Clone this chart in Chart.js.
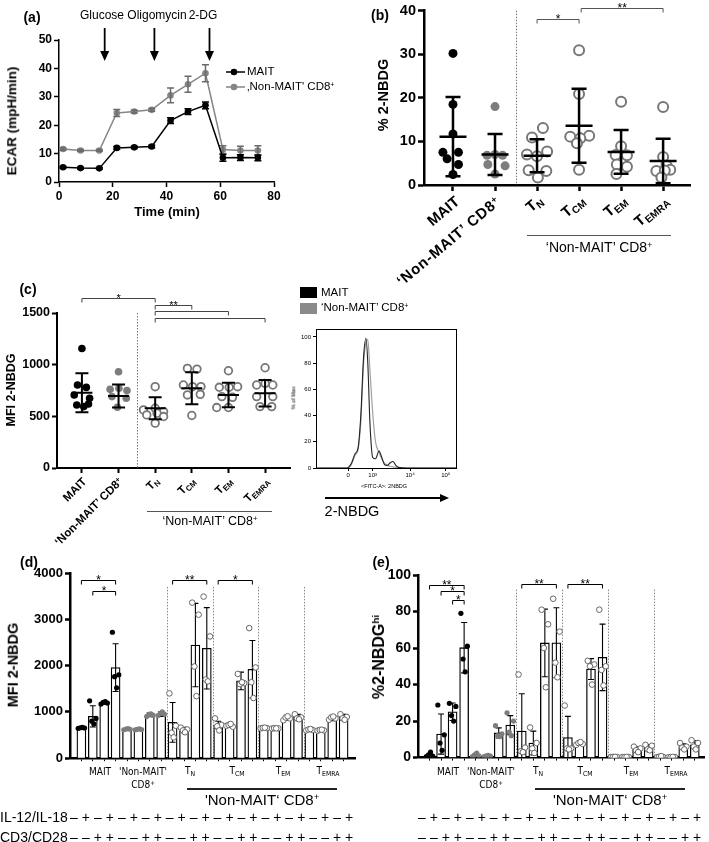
<!DOCTYPE html>
<html><head><meta charset="utf-8">
<script src="https://cdn.jsdelivr.net/npm/chart.js@4.4.1/dist/chart.umd.min.js"></script>
<style>
html,body{margin:0;padding:0;background:#fff;}
#root{position:relative;width:709px;height:842px;overflow:hidden;font-family:'Liberation Sans',Arial,Helvetica,sans-serif;color:#000;background:#fff;}
canvas{position:absolute;}
.t{position:absolute;white-space:nowrap;line-height:1;}
.s{font-size:0.68em;vertical-align:-0.28em;}
.p{font-size:0.62em;vertical-align:0.5em;}
</style></head><body><div id="root"></div>
<script>
// ================= DATA =================
// (a) Seahorse ECAR
const timeMin       = [1.5, 8, 15, 21.5, 28, 34.5, 41.5, 48, 54.5, 61, 67.5, 74];
const ecarMAIT      = [5.2, 4.9, 4.8, 12.0, 12.2, 12.5, 21.6, 24.8, 27.0, 8.5, 8.6, 8.5];
const ecarMAITsd    = [0.3, 0.3, 0.3, 0.5, 0.4, 0.4, 1.0, 1.0, 1.2, 1.2, 1.0, 1.0];
const ecarNonMAIT   = [11.6, 11.1, 11.1, 24.3, 24.8, 25.4, 30.5, 34.4, 38.3, 11.4, 11.1, 11.1];
const ecarNonMAITsd = [0.4, 0.3, 0.3, 1.2, 0.5, 0.5, 2.6, 2.8, 3.0, 1.4, 1.5, 1.7];
const injectionNames = ['Glucose', 'Oligomycin', '2-DG'];
const injectionTimes = [17, 35.5, 56];

// (b) % 2-NBDG per subset (index 0..5 = MAIT, Non-MAIT, TN, TCM, TEM, TEMRA)
const subsets     = ['MAIT', "‘Non-MAIT’ CD8+", 'TN', 'TCM', 'TEM', 'TEMRA'];
const pctMAIT     = [30.2, 18.5, 11.7, 7.5, 7.5, 6.0, 4.7, 2.4];
const pctNonMAIT  = [18.0, 6.8, 6.8, 7.0, 4.7, 4.4, 2.5];
const pctTN       = [13.1, 10.9, 7.0, 7.7, 6.6, 3.4, 3.2, 1.7];
const pctTCM      = [30.9, 20.9, 11.1, 11.3, 10.7, 9.6, 3.5];
const pctTEM      = [19.1, 8.9, 6.9, 6.8, 4.7, 4.2, 2.5];
const pctTEMRA    = [17.9, 6.4, 4.5, 3.2, 3.5, 3.3, 1.7];
const pctMean     = [11.1, 7.0, 6.7, 13.6, 7.6, 5.5];
const pctSD       = [9.1, 4.7, 3.8, 8.5, 5.0, 5.1];
const jitB = [
  [0, 0, 0, -0.24, 0.13, -0.14, 0.13, 0],
  [0, -0.19, 0.18, 0, -0.17, 0.24, 0],
  [0.14, -0.12, -0.24, 0.24, 0, -0.2, 0.22, 0.02],
  [0, 0, -0.21, 0.24, 0.03, -0.05, 0],
  [0, 0, -0.13, 0.14, -0.1, 0.14, -0.11],
  [0, 0, 0.08, -0.16, 0.17, 0.04, -0.04]
];
const sigB = [[2, 3, 38.0, '*'], [3.05, 5, 40.7, '**']];

// (c) MFI 2-NBDG per subset
const mfiMAIT     = [1156, 803, 780, 707, 675, 610, 594, 620];
const mfiNonMAIT  = [932, 761, 771, 749, 691, 675, 588];
const mfiTN       = [787, 562, 578, 546, 514, 530, 498, 434];
const mfiTCM      = [964, 957, 803, 787, 787, 707, 713, 508];
const mfiTEM      = [941, 781, 781, 787, 691, 684, 585, 585];
const mfiTEMRA    = [970, 803, 819, 803, 691, 691, 594, 594];
const mfiMean     = [729, 697, 578, 771, 707, 723];
const mfiSD       = [189, 111, 107, 155, 119, 129];
const jitC = [
  [0, -0.12, 0.12, -0.21, 0.21, -0.14, 0.05, 0.18],
  [0, -0.23, 0.01, 0.23, -0.18, 0.21, -0.03],
  [0, -0.32, 0, 0.23, -0.23, 0.05, 0.23, 0],
  [-0.12, 0.14, -0.23, 0.02, 0.25, -0.12, 0.23, 0],
  [0, -0.25, 0.02, 0.25, -0.18, 0.11, -0.32, 0],
  [0, -0.23, 0, 0.21, -0.23, 0.21, -0.14, 0.18]
];
const sigC = [[0, 2, 1645, '*'], [2, 3, 1577, '**'], [2, 4, 1519, ''], [2, 5, 1452, '']];

// (c, right) histogram: display channel (0-100) vs % of Max
const histX       = [0, 18, 22, 25, 28, 30, 32, 34, 35.7, 37, 38.5, 40.5, 42.5, 45, 47, 49, 51, 53, 55, 57, 59, 65, 100];
const histMAIT    = [0, 0, 0, 3, 11, 15, 40, 85, 99, 80, 35, 8, 7, 13, 8, 2.5, 2, 4, 5, 2, 0.5, 0, 0];
const histNonMAIT = [0, 0, 0, 2, 10, 14, 35, 80, 96, 98, 75, 42, 20, 12, 7, 3.5, 2, 1.3, 0.8, 0.5, 0.2, 0, 0];
const histTickPos = [23, 40.5, 67.2, 92.7];
const histTickLbl = ['0', '10³', '10⁴', '10⁵'];

// (d) MFI 2-NBDG after stimulation, 24 bars (6 subsets x 4 conditions)
const mfiStimMean = [652, 903, 1197, 1957, 631, 624, 939, 953, 774, 609, 2444, 2373,
                     717, 703, 1670, 1921, 652, 645, 867, 882, 616, 609, 867, 882];
const mfiStimSD   = [15, 230, 30, 515, 15, 12, 40, 50, 430, 60, 900, 880,
                     80, 40, 190, 620, 15, 12, 50, 65, 20, 15, 55, 65];
const mfiStimPts  = [
  [645, 652, 658, 665], [1240, 860, 800, 740], [1170, 1190, 1205, 1225], [2720, 1800, 1760, 1520],
  [615, 625, 630, 640], [615, 620, 625, 635], [900, 930, 945, 960], [920, 950, 965, 1000],
  [1400, 700, 550, 450], [660, 620, 600, 560], [3360, 3100, 1980, 1340], [3490, 2630, 1700, 1660],
  [860, 720, 690, 600], [700, 680, 720, 740], [1820, 1620, 1600, 1640], [2810, 1960, 1640, 1300],
  [645, 650, 655, 660], [640, 645, 650, 645], [820, 860, 880, 905], [950, 880, 860, 840],
  [600, 610, 620, 630], [595, 600, 610, 615], [830, 860, 880, 900], [950, 890, 860, 830]
];
const sigD = [[0, 3, 3849, '*'], [1, 3, 3613, '*'], [8, 11, 3849, '**'], [12, 15, 3849, '*']];

// (e) % 2-NBDG hi after stimulation
const hiMean = [1.0, 12.9, 25.1, 60.2, 1.2, 0.8, 13.5, 17.8, 14.5, 8.0, 62.8, 62.9,
                11.0, 7.6, 48.5, 54.9, 0.3, 0.3, 4.5, 5.5, 0.4, 0.3, 6.0, 7.0];
const hiSD   = [0.9, 11.0, 4.8, 13.8, 0.8, 0.3, 2.8, 5.2, 20.5, 6.5, 18.5, 19.2,
                11.6, 0.5, 5.7, 18.2, 0.1, 0.1, 1.4, 1.6, 0.3, 0.1, 1.5, 2.2];
const hiPts  = [
  [0.5, 0.8, 1.5, 3.0], [28.8, 12.5, 8, 4], [29.7, 28, 23, 20], [79, 61, 54, 47],
  [0.5, 1.0, 1.5, 2.5], [0.5, 0.8, 1.0, 1.2], [17.5, 13, 12, 11.5], [24.5, 20, 14, 12],
  [45.5, 5.5, 3.5, 3.0], [16.5, 8, 5, 2.5], [81, 73, 60, 38.5], [87, 69, 52, 44],
  [28.5, 5, 5, 4.5], [7, 7.5, 8, 8.5], [53, 51, 50, 40], [81, 50, 48, 39.5],
  [0.3, 0.3, 0.4, 0.4], [0.3, 0.3, 0.3, 0.4], [6, 5, 4, 3], [7, 6.5, 4.5, 4],
  [0.2, 0.3, 0.5, 0.8], [0.2, 0.3, 0.3, 0.4], [8, 6, 5.5, 4.5], [9.5, 8, 6, 4.5]
];
const sigE = [[0, 3, 94.7, '**'], [1, 3, 91, '*'], [2, 3, 86.2, '*'], [8, 11, 95.2, '**'], [12, 15, 95.2, '**']];

// stimulation conditions under (d) and (e)
const signIL = ['–','+','–','+','–','+','–','+','–','+','–','+','–','+','–','+','–','+','–','+','–','+','–','+'];
const signCD = ['–','–','+','+','–','–','+','+','–','–','+','+','–','–','+','+','–','–','+','+','–','–','+','+'];
const groupSeparators = [1.5];
const stimSeparators = [7.5, 11.5, 15.5, 19.5];
const pointJitter = [-0.28, 0.28, -0.09, 0.09];

// ================= HELPERS =================
const root = document.getElementById('root');
function mkCanvas(l, t, w, h) {
  const c = document.createElement('canvas');
  c.width = w; c.height = h;
  c.style.left = l + 'px'; c.style.top = t + 'px';
  c.style.width = w + 'px'; c.style.height = h + 'px';
  root.appendChild(c);
  return c;
}
function txt(html, x, y, o = {}) {
  const d = document.createElement('div');
  d.className = 't';
  d.innerHTML = html;
  d.style.fontSize = (o.size || 12) + 'px';
  d.style.fontWeight = o.bold ? 'bold' : 'normal';
  if (o.family) d.style.fontFamily = o.family;
  if (o.color) d.style.color = o.color;
  if (o.ls) d.style.letterSpacing = o.ls + 'px';
  d.style.left = x + 'px'; d.style.top = y + 'px';
  const ax = o.anchor || 'center';
  let tr = ax === 'left' ? 'translate(0,-50%)' : ax === 'right' ? 'translate(-100%,-50%)' : 'translate(-50%,-50%)';
  if (o.rot) {
    tr += ' rotate(' + o.rot + 'deg)';
    d.style.transformOrigin = ax === 'right' ? '100% 50%' : ax === 'left' ? '0 50%' : '50% 50%';
  }
  d.style.transform = tr;
  root.appendChild(d);
  return d;
}
function hline(x1, x2, y, w, col) {
  const d = document.createElement('div');
  d.style.cssText = `position:absolute;left:${x1}px;top:${y}px;width:${x2 - x1}px;height:${w}px;background:${col};`;
  root.appendChild(d);
}
function box(x, y, w, h, col) {
  const d = document.createElement('div');
  d.style.cssText = `position:absolute;left:${x}px;top:${y}px;width:${w}px;height:${h}px;background:${col};`;
  root.appendChild(d);
}

const extras = {
  id: 'extras',
  beforeDatasetsDraw(chart, a, o) {
    const ctx = chart.ctx, xs = chart.scales.x, ys = chart.scales.y;
    if (o.vlines) {
      ctx.save();
      ctx.strokeStyle = o.vlineColor || '#777'; ctx.lineWidth = 1; ctx.setLineDash([1.5, 1.5]);
      o.vlines.forEach(v => {
        const x = Math.round(xs.getPixelForValue(v)) + 0.5;
        ctx.beginPath(); ctx.moveTo(x, ys.getPixelForValue(o.vlineTop)); ctx.lineTo(x, ys.getPixelForValue(ys.min)); ctx.stroke();
      });
      ctx.restore();
    }
  },
  afterDatasetDraw(chart, args) {
    const ds = chart.data.datasets[args.index];
    if (!ds.errors) return;
    const ctx = chart.ctx, ys = chart.scales.y;
    ctx.save();
    ctx.strokeStyle = ds.errColor || '#000'; ctx.lineWidth = ds.errWidth || 1.5;
    args.meta.data.forEach((el, i) => {
      const d = ds.data[i]; const val = typeof d === 'object' ? d.y : d;
      const e = ds.errors[i];
      const x = el.x;
      const lo = val - e;
      const y1 = ys.getPixelForValue(val + e), y2 = ys.getPixelForValue(Math.max(lo, ys.min));
      const c = ds.errCap || 4;
      ctx.beginPath();
      ctx.moveTo(x, y1); ctx.lineTo(x, y2);
      ctx.moveTo(x - c, y1); ctx.lineTo(x + c, y1);
      if (lo >= ys.min) { ctx.moveTo(x - c, y2); ctx.lineTo(x + c, y2); }
      if (ds.meanHalf) { const y = ys.getPixelForValue(val); ctx.moveTo(x - ds.meanHalf, y); ctx.lineTo(x + ds.meanHalf, y); }
      ctx.stroke();
    });
    ctx.restore();
  },
  afterDraw(chart, a, o) {
    const ctx = chart.ctx, xs = chart.scales.x, ys = chart.scales.y;
    ctx.save();
    if (o.brackets) {
      ctx.strokeStyle = o.bracketColor || '#000'; ctx.fillStyle = '#000'; ctx.lineWidth = 1;
      ctx.font = (o.starSize || 12) + "px 'Liberation Sans', Arial, sans-serif";
      ctx.textAlign = 'center'; ctx.textBaseline = 'alphabetic';
      const tip = o.tip || 4;
      o.brackets.forEach(b => {
        const x1 = xs.getPixelForValue(b[0]), x2 = xs.getPixelForValue(b[1]);
        const y = Math.round(ys.getPixelForValue(b[2])) + 0.5;
        ctx.beginPath(); ctx.moveTo(x1, y + tip); ctx.lineTo(x1, y); ctx.lineTo(x2, y); ctx.lineTo(x2, y + tip); ctx.stroke();
        if (b[3]) ctx.fillText(b[3], (x1 + x2) / 2, y + (o.starDy || 3));
      });
    }
    if (o.arrows) {
      ctx.strokeStyle = '#000'; ctx.fillStyle = '#000'; ctx.lineWidth = 1.8;
      o.arrows.forEach(t => {
        const x = xs.getPixelForValue(t);
        ctx.beginPath(); ctx.moveTo(x, o.arrowTop); ctx.lineTo(x, o.arrowBottom - 6); ctx.stroke();
        ctx.beginPath(); ctx.moveTo(x - 4.5, o.arrowBottom - 10); ctx.lineTo(x + 4.5, o.arrowBottom - 10); ctx.lineTo(x, o.arrowBottom); ctx.closePath(); ctx.fill();
      });
    }
    if (o.legendItems) {
      o.legendItems.forEach(it => {
        ctx.strokeStyle = it.color; ctx.fillStyle = it.color; ctx.lineWidth = 1.5;
        ctx.beginPath(); ctx.moveTo(it.x1, it.y); ctx.lineTo(it.x2, it.y); ctx.stroke();
        ctx.beginPath(); ctx.arc(it.cx, it.y, 3.3, 0, Math.PI * 2); ctx.fill();
      });
    }
    if (o.box) {
      const ca = chart.chartArea;
      ctx.strokeStyle = '#000'; ctx.lineWidth = 1;
      ctx.strokeRect(Math.round(ca.left) + 0.5, Math.round(ca.top) + 0.5, Math.round(ca.right - ca.left), Math.round(ca.bottom - ca.top));
    }
    ctx.restore();
  }
};

Chart.defaults.font.family = "'Liberation Sans', Arial, Helvetica, sans-serif";
Chart.defaults.color = '#000';
Chart.defaults.animation = false;
Chart.defaults.responsive = false;
Chart.defaults.devicePixelRatio = 1;
Chart.defaults.plugins.legend.display = false;
Chart.defaults.plugins.tooltip.enabled = false;
Chart.register(extras);

function axis(o) {
  return {
    type: 'linear', min: o.min, max: o.max, offset: false,
    ticks: { display: o.labels !== false, stepSize: o.step, font: { size: o.fs || 12, weight: o.fw || 'bold' },
             padding: o.pad != null ? o.pad : 2, color: '#000', callback: o.cb, maxRotation: 0, autoSkip: false },
    grid: { display: true, drawOnChartArea: false, drawTicks: true, tickLength: o.tl != null ? o.tl : 5,
            tickWidth: o.tw || 1.5, tickColor: '#000', offset: false },
    border: { display: true, color: '#000', width: o.bw || 2 },
    afterBuildTicks: o.ticks ? (s => { s.ticks = o.ticks.map(v => ({ value: v })); }) : undefined,
    afterFit: s => { if (o.size != null) { if (s.isHorizontal()) s.height = o.size; else s.width = o.size; } }
  };
}
const GREY = '#7d7d7d';
function groupStyle(g, rf, ro, bwo) {
  if (g === 0) return { pointRadius: rf, backgroundColor: '#000', borderColor: '#000', borderWidth: 0 };
  if (g === 1) return { pointRadius: rf, backgroundColor: GREY, borderColor: GREY, borderWidth: 0 };
  return { pointRadius: ro, backgroundColor: '#fff', borderColor: '#777', borderWidth: bwo };
}

// ================= PANEL (a) =================
new Chart(mkCanvas(0, 0, 350, 225), {
  type: 'line',
  data: { datasets: [
    { label: 'MAIT', data: timeMin.map((t, i) => ({ x: t, y: ecarMAIT[i] })), errors: ecarMAITsd,
      borderColor: '#000', backgroundColor: '#000', pointRadius: 3.3, pointBorderWidth: 0, borderWidth: 1.5,
      errColor: '#000', errCap: 3.5, errWidth: 1.5, order: 1 },
    { label: 'Non-MAIT CD8+', data: timeMin.map((t, i) => ({ x: t, y: ecarNonMAIT[i] })), errors: ecarNonMAITsd,
      borderColor: '#858585', backgroundColor: '#858585', pointRadius: 3.3, pointBorderWidth: 0, borderWidth: 1.5,
      errColor: '#6a6a6a', errCap: 3.5, errWidth: 1.5, order: 2 }
  ] },
  options: {
    layout: { padding: { top: 40, right: 76, left: 0, bottom: 0 } },
    plugins: { extras: {
      arrows: injectionTimes, arrowTop: 28, arrowBottom: 61,
      legendItems: [
        { color: '#000', x1: 226, x2: 245, cx: 234, y: 72 },
        { color: '#858585', x1: 226, x2: 245, cx: 234, y: 87 }
      ] } },
    scales: {
      x: axis({ min: 0, max: 80, step: 20, fs: 12, size: 43, tl: 5, bw: 1.5, pad: 2 }),
      y: axis({ min: 0, max: 50, step: 10, fs: 12, size: 59, tl: 5, bw: 1.5, pad: 2 })
    }
  }
});
txt('(a)', 32, 17, { size: 14, bold: true });
injectionNames.forEach((n, i) => txt(n, [102, 157, 203][i], 15, { size: 12 }));
txt('ECAR (mpH/min)', 12, 121, { size: 13.5, bold: true, rot: -90 });
txt('Time (min)', 167, 211, { size: 13, bold: true });
txt('MAIT', 247, 72, { size: 11.5, anchor: 'left' });
txt('‚Non-MAIT\' CD8<span class="p">+</span>', 247, 87, { size: 11.5, anchor: 'left' });

// ================= PANEL (b) =================
const bGroups = [pctMAIT, pctNonMAIT, pctTN, pctTCM, pctTEM, pctTEMRA];
new Chart(mkCanvas(350, 0, 359, 200), {
  type: 'scatter',
  data: { datasets: [
    ...bGroups.map((arr, g) => Object.assign({ data: arr.map((v, i) => ({ x: g + jitB[g][i], y: v })), order: 2 },
                                             groupStyle(g, 4.5, 5, 2))),
    { data: pctMean.map((v, g) => ({ x: g, y: v })), pointRadius: 0, errors: pctSD, meanHalf: 13.5, errCap: 7.5,
      errWidth: 2.5, errColor: '#000', order: 0 }
  ] },
  options: {
    layout: { padding: { top: 8, right: 19, left: 0, bottom: 0 } },
    plugins: { extras: { vlines: groupSeparators, vlineTop: 40, vlineColor: '#777', brackets: sigB, bracketColor: '#555', tip: 4, starSize: 12 } },
    scales: {
      x: axis({ min: -0.69, max: 5.64, ticks: [0, 1, 2, 3, 4, 5], labels: false, size: 15, tl: 6, tw: 2.5, bw: 2.5 }),
      y: axis({ min: 0, max: 40, step: 10, fs: 14.5, size: 74, tl: 6, tw: 2.5, bw: 2.5, pad: 2 })
    }
  }
});
txt('(b)', 380, 15, { size: 14, bold: true });
txt('% 2-NBDG', 383, 95, { size: 14.5, bold: true, rot: -90 });
const subsetHTML = ['MAIT', '‘Non-MAIT’ CD8<span class="p">+</span>', 'T<span class="s">N</span>',
                    'T<span class="s">CM</span>', 'T<span class="s">EM</span>', 'T<span class="s">EMRA</span>'];
[453, 494, 537, 579, 621, 663].forEach((x, i) => txt(subsetHTML[i], x + 4, 199,
  { size: 15, bold: true, anchor: 'right', rot: -40, ls: i === 1 ? 0.8 : 0 }));
hline(527, 671, 235, 1, '#555');
txt('‘Non-MAIT’ CD8<span class="p">+</span>', 599, 247, { size: 14 });

// ================= PANEL (c) =================
const cGroups = [mfiMAIT, mfiNonMAIT, mfiTN, mfiTCM, mfiTEM, mfiTEMRA];
new Chart(mkCanvas(0, 270, 300, 210), {
  type: 'scatter',
  data: { datasets: [
    ...cGroups.map((arr, g) => Object.assign({ data: arr.map((v, i) => ({ x: g + jitC[g][i], y: v })), order: 2 },
                                             groupStyle(g, 3.8, 3.8, 1.8))),
    { data: mfiMean.map((v, g) => ({ x: g, y: v })), pointRadius: 0, errors: mfiSD, meanHalf: 10.5, errCap: 6.5,
      errWidth: 2, errColor: '#000', order: 0 }
  ] },
  options: {
    layout: { padding: { top: 43, right: 10, left: 0, bottom: 0 } },
    plugins: { extras: { vlines: groupSeparators, vlineTop: 1500, vlineColor: '#777', brackets: sigC, bracketColor: '#444', tip: 4, starSize: 11 } },
    scales: {
      x: axis({ min: -0.68, max: 5.68, ticks: [0, 1, 2, 3, 4, 5], labels: false, size: 12, tl: 5, tw: 2, bw: 2 }),
      y: axis({ min: 0, max: 1500, step: 500, fs: 12.5, size: 57, tl: 5, tw: 2, bw: 2, pad: 2 })
    }
  }
});
txt('(c)', 28, 289, { size: 14, bold: true });
txt('MFI 2-NBDG', 11, 390, { size: 12.5, bold: true, rot: -90 });
[82, 118, 155, 191, 228, 265].forEach((x, i) => txt(subsetHTML[i], x + 3, 480, { size: 11.5, bold: true, anchor: 'right', rot: -45 }));
hline(147, 272, 511, 1, '#555');
txt('‘Non-MAIT’ CD8<span class="p">+</span>', 210, 521, { size: 12.5 });

// ================= PANEL (c) histogram =================
new Chart(mkCanvas(280, 280, 180, 200), {
  type: 'line',
  data: { datasets: [
    { data: histX.map((x, i) => ({ x: x, y: histNonMAIT[i] })), borderColor: '#a0a0a0', borderWidth: 1.2, pointRadius: 0, cubicInterpolationMode: 'monotone', order: 2 },
    { data: histX.map((x, i) => ({ x: x, y: histMAIT[i] })), borderColor: '#222', borderWidth: 1.1, pointRadius: 0, cubicInterpolationMode: 'monotone', order: 1 }
  ] },
  options: {
    layout: { padding: { top: 49, right: 4, left: 0, bottom: 0 } },
    plugins: { extras: { box: true } },
    scales: {
      x: axis({ min: 0, max: 100, ticks: histTickPos, fs: 6, fw: 'normal', size: 12, tl: 3, tw: 1, bw: 1, pad: 1,
                cb: v => histTickLbl[histTickPos.indexOf(v)] }),
      y: axis({ min: 0, max: 106, ticks: [0, 20, 40, 60, 80, 100], fs: 6, fw: 'normal', size: 36, tl: 3, tw: 1, bw: 1, pad: 2 })
    }
  }
});
box(300, 287, 17, 11, '#000');
box(300, 303, 17, 11, '#8a8a8a');
txt('MAIT', 321, 293, { size: 11.5, anchor: 'left' });
txt('‘Non-MAIT’ CD8<span class="p">+</span>', 321, 308, { size: 11.5, anchor: 'left' });
txt('% of Max', 294, 398, { size: 5.5, rot: -90 });
txt('&lt;FITC-A&gt;: 2NBDG', 384, 487, { size: 5.5 });
hline(325, 441, 497, 1.5, '#000');
(function () { const d = document.createElement('div');
  d.style.cssText = 'position:absolute;left:440px;top:493.5px;width:0;height:0;border-top:4px solid transparent;border-bottom:4px solid transparent;border-left:9px solid #000;';
  root.appendChild(d); })();
txt('2-NBDG', 352, 511, { size: 14.5 });

// ================= PANELS (d) and (e) =================
function stimChart(left, mean, sd, pts, sig, yMax, yStep, vTop, xMax, pad, yWidth, tickFs) {
  const idx = mean.map((v, i) => i);
  const groupPts = (lo, hi) => idx.filter(i => i >= lo && i < hi).flatMap(i => pts[i].map((v, k) => ({ x: i + pointJitter[k], y: v })));
  return new Chart(mkCanvas(left, 540, left === 0 ? 360 : 359, 228), {
    type: 'bar',
    data: { datasets: [
      { type: 'bar', data: mean.map((v, i) => ({ x: i, y: v })), errors: sd, backgroundColor: '#fff', borderColor: '#000',
        borderWidth: 1.3, barThickness: 9, errCap: 3, errWidth: 1.1, errColor: '#000', order: 3 },
      Object.assign({ type: 'scatter', data: groupPts(0, 4), order: 1 }, groupStyle(0, 2.6, 2.8, 1)),
      Object.assign({ type: 'scatter', data: groupPts(4, 8), order: 1 }, groupStyle(1, 2.6, 2.8, 1)),
      Object.assign({ type: 'scatter', data: groupPts(8, 24), order: 1 }, groupStyle(2, 2.6, 2.8, 1), { borderColor: '#666' })
    ] },
    options: {
      layout: { padding: pad },
      plugins: { extras: { vlines: stimSeparators, vlineTop: vTop, vlineColor: '#888', brackets: sig, bracketColor: '#000', tip: 4, starSize: 12 } },
      scales: {
        x: axis({ min: -1, max: xMax, ticks: idx, labels: false, size: 5, tl: 3, tw: 1, bw: 2.5 }),
        y: axis({ min: 0, max: yMax, step: yStep, fs: tickFs, size: yWidth, tl: 5, tw: 2.5, bw: 2.5, pad: 2 })
      }
    }
  });
}
stimChart(0, mfiStimMean, mfiStimSD, mfiStimPts, sigD, 4000, 1000, 3700, 24, { top: 33, right: 2, left: 0, bottom: 0 }, 70, 13);
stimChart(350, hiMean, hiSD, hiPts, sigE, 100, 20, 92, 23.8, { top: 35, right: 2, left: 0, bottom: 0 }, 68, 14);
txt('(d)', 29, 562, { size: 14, bold: true });
txt('(e)', 381, 562, { size: 14, bold: true });
txt('MFI 2-NBDG', 13, 665, { size: 14.5, bold: true, rot: -90 });
txt('%2-NBDG<span class="p">hi</span>', 379, 657, { size: 16, bold: true, rot: -90 });

const NARROW = "'Liberation Sans Narrow','DejaVu Sans Condensed','Liberation Sans',Arial,sans-serif";
[0, 348].forEach(off => {
  txt('MAIT', 100 + off, 772, { size: 10, family: NARROW });
  txt('\'Non-MAIT\'', 143 + off, 772, { size: 10, family: NARROW });
  txt('CD8<span class="p">+</span>', 143 + off, 785, { size: 10, family: NARROW });
  txt('T<span class="s">N</span>', 190 + off, 772, { size: 10, family: NARROW });
  txt('T<span class="s">CM</span>', 237 + off, 772, { size: 10, family: NARROW });
  txt('T<span class="s">EM</span>', 283 + off, 772, { size: 10, family: NARROW });
  txt('T<span class="s">EMRA</span>', 328 + off, 772, { size: 10, family: NARROW });
  hline(187 + off, 337 + off, 788, 1.5, '#222');
  txt('\'Non-MAIT‘ CD8<span class="p">+</span>', 262 + off, 799, { size: 15 });
  signIL.forEach((s, i) => txt(s, 74 + off + i * 11.96, 817, { size: 14 }));
  signCD.forEach((s, i) => txt(s, 74 + off + i * 11.96, 837, { size: 14 }));
});
txt('IL-12/IL-18', 0, 817, { size: 14, anchor: 'left' });
txt('CD3/CD28', 0, 837, { size: 14, anchor: 'left' });
</script>
</body></html>
